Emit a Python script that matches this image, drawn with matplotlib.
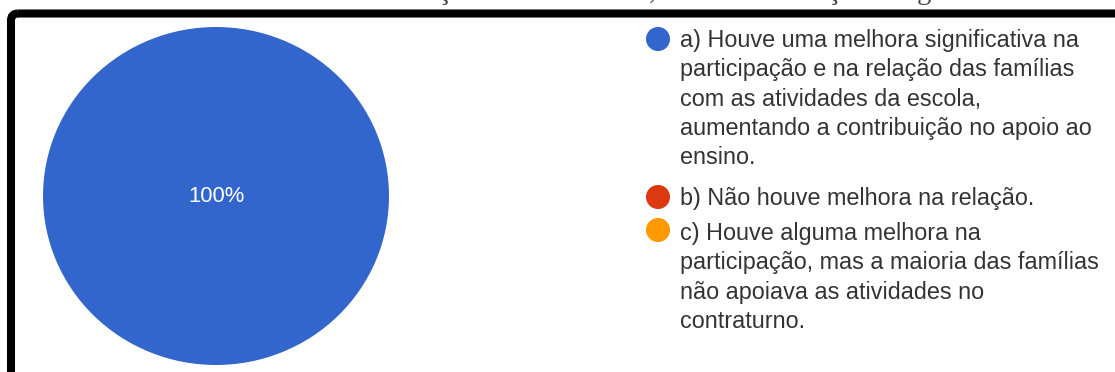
import matplotlib
matplotlib.use("Agg")
import matplotlib.pyplot as plt
from matplotlib.patches import FancyBboxPatch

# Survey answers and their shares (%)
categories = [
    "a) Houve uma melhora significativa na\nparticipação e na relação das famílias\ncom as atividades da escola,\naumentando a contribuição no apoio ao\nensino.",
    "b) Não houve melhora na relação.",
    "c) Houve alguma melhora na\nparticipação, mas a maioria das famílias\nnão apoiava as atividades no\ncontraturno.",
]
shares = [100, 0, 0]
colors = ["#3366CC", "#DC3912", "#FF9900"]
caption = "Gráfico 3 – Relação entre a família, escola e educação integral"

W, H = 1115, 372
fig = plt.figure(figsize=(W / 100, H / 100), dpi=100)
fig.patch.set_facecolor("white")

sans = ["Liberation Sans", "DejaVu Sans"]
text_color = "#333333"

# Pie: centre (216, 196) px, radius ~173 x 169 px
cx, cy, rx, ry = 216, 196, 173, 169
ax = fig.add_axes([(cx - rx) / W, (H - cy - ry) / H, 2 * rx / W, 2 * ry / H])
wedges, texts, autotexts = ax.pie(
    shares,
    colors=colors,
    startangle=90,
    counterclock=False,
    autopct=lambda p: f"{p:.0f}%" if p > 0 else "",
    pctdistance=0.0,
    wedgeprops=dict(linewidth=0),
    textprops=dict(color="white", fontsize=15.8, family=sans),
)
ax.set_xlim(-1, 1)
ax.set_ylim(-1, 1)
ax.set_aspect("auto")
ax.axis("off")

# Overlay in pixel coordinates for the frame and the legend
ov = fig.add_axes([0, 0, 1, 1], facecolor="none")
ov.set_xlim(0, W)
ov.set_ylim(H, 0)
ov.axis("off")

frame = FancyBboxPatch((11, 13.5), 2000, 1000,
                       boxstyle="round,pad=0,rounding_size=7",
                       linewidth=5.8, edgecolor="black", facecolor="none")
ov.add_patch(frame)

# Legend entries: marker and wrapped label
marker_x = 658
text_x = 680
line_gap = 29.3
entry_baselines = [47, 205, 240]
marker_y = [39, 197, 230]
for label, col, base, my in zip(categories, colors, entry_baselines, marker_y):
    ov.scatter([marker_x], [my], s=300, color=col, edgecolors="none", zorder=3)
    for i, line in enumerate(label.split("\n")):
        ov.text(text_x, base + i * line_gap, line, fontsize=16.8, family=sans,
                color=text_color, va="baseline", ha="left")

# Caption above the frame, mostly outside the canvas
fig.text(605 / W, 1 + 1 / H, caption, ha="center", va="baseline",
         fontsize=20.5, family=["Liberation Serif", "DejaVu Serif"], color="#444444")

fig.savefig("out.png", dpi=100, facecolor="white")
